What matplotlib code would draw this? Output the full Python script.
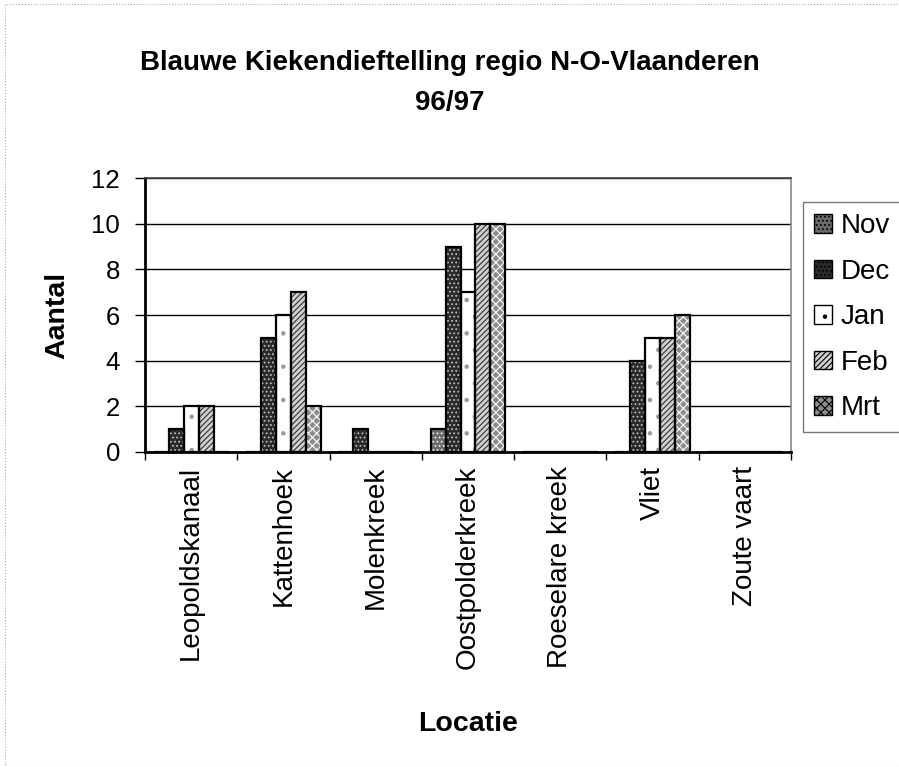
import matplotlib.pyplot as plt
import numpy as np
from matplotlib.patches import Rectangle

plt.rcParams['font.family'] = ['Liberation Sans', 'DejaVu Sans']
plt.rcParams['hatch.linewidth'] = 0.8

locaties = ['Leopoldskanaal', 'Kattenhoek', 'Molenkreek', 'Oostpolderkreek',
            'Roeselare kreek', 'Vliet', 'Zoute vaart']
maanden = ['Nov', 'Dec', 'Jan', 'Feb', 'Mrt']

nov = [0, 0, 0, 1, 0, 0, 0]
dec = [1, 5, 1, 9, 0, 4, 0]
jan = [2, 6, 0, 7, 0, 5, 0]
feb = [2, 7, 0, 10, 0, 5, 0]
mrt = [0, 2, 0, 10, 0, 6, 0]

series = [nov, dec, jan, feb, mrt]

# look of each month (face, hatch colour, hatch)
stijl = [
    ('#6a6a6a', '#f0f0f0', '....'),
    ('#2a2a2a', '#bdbdbd', '....'),
    ('#ffffff', '#9a9a9a', '.'),
    ('#d0d0d0', '#303030', '//////'),
    ('#8c8c8c', '#ffffff', 'xxxx'),
]

fig = plt.figure(figsize=(8.99, 7.67), dpi=100)
ax = fig.add_axes([0.1613, 0.4107, 0.7186, 0.3572])

x = np.arange(len(locaties))
w = 0.162
for i, vals in enumerate(series):
    fc, hc, h = stijl[i]
    ax.bar(x + (i - 2) * w, vals, w, facecolor=fc, edgecolor=hc, hatch=h,
           linewidth=0, label=maanden[i], zorder=3)
    # black outline over the hatch
    ax.bar(x + (i - 2) * w, vals, w, facecolor='none', edgecolor='black',
           linewidth=1.6, zorder=4)

ax.set_ylim(0, 12)
ax.set_yticks(range(0, 13, 2))
ax.set_xlim(-0.5, len(locaties) - 0.5)
ax.set_xticks(x)
ax.set_xticklabels(locaties, rotation=90, fontsize=20)
ax.tick_params(axis='x', length=0, pad=10)
ax.set_xticks(np.arange(-0.5, len(locaties), 1), minor=True)
ax.tick_params(axis='x', which='minor', length=6, width=1, direction='out')
ax.tick_params(axis='y', labelsize=18.5, length=7, width=1, direction='out', pad=11)
ax.yaxis.grid(True, color='black', linewidth=1.0, zorder=0)
ax.set_axisbelow(True)
for s in ax.spines.values():
    s.set_linewidth(1.2)
ax.spines['left'].set_linewidth(2)
ax.spines['bottom'].set_linewidth(2)
ax.spines['top'].set_color('#444444')
ax.spines['right'].set_color('#888888')

ax.set_ylabel('Aantal', fontsize=20.5, fontweight='bold', labelpad=15)
ax.set_xlabel('Locatie', fontsize=20.5, fontweight='bold', labelpad=30)

fig.text(0.5, 0.918, 'Blauwe Kiekendieftelling regio N-O-Vlaanderen',
         ha='center', va='center', fontsize=20, fontweight='bold')
fig.text(0.5, 0.866, '96/97', ha='center', va='center',
         fontsize=20, fontweight='bold')

leg = ax.legend(loc='upper left', bbox_to_anchor=(1.0186, 0.912), fontsize=20,
                frameon=True, fancybox=False, handlelength=0.65,
                handleheight=0.65, handletextpad=0.3, labelspacing=0.7,
                borderpad=0.4, borderaxespad=0)
leg.get_frame().set_edgecolor('#555555')
leg.get_frame().set_linewidth(1.0)
for p in leg.get_patches():
    p.set_linewidth(1.0)
    p.set_edgecolor('black')

# faint border of the scanned page
fig.patches.append(Rectangle((0.006, 0.0), 1.2, 0.995, transform=fig.transFigure,
                             fill=False, edgecolor='#aaaaaa', linewidth=0.8,
                             linestyle=':'))

fig.savefig('out.png', dpi=100)
